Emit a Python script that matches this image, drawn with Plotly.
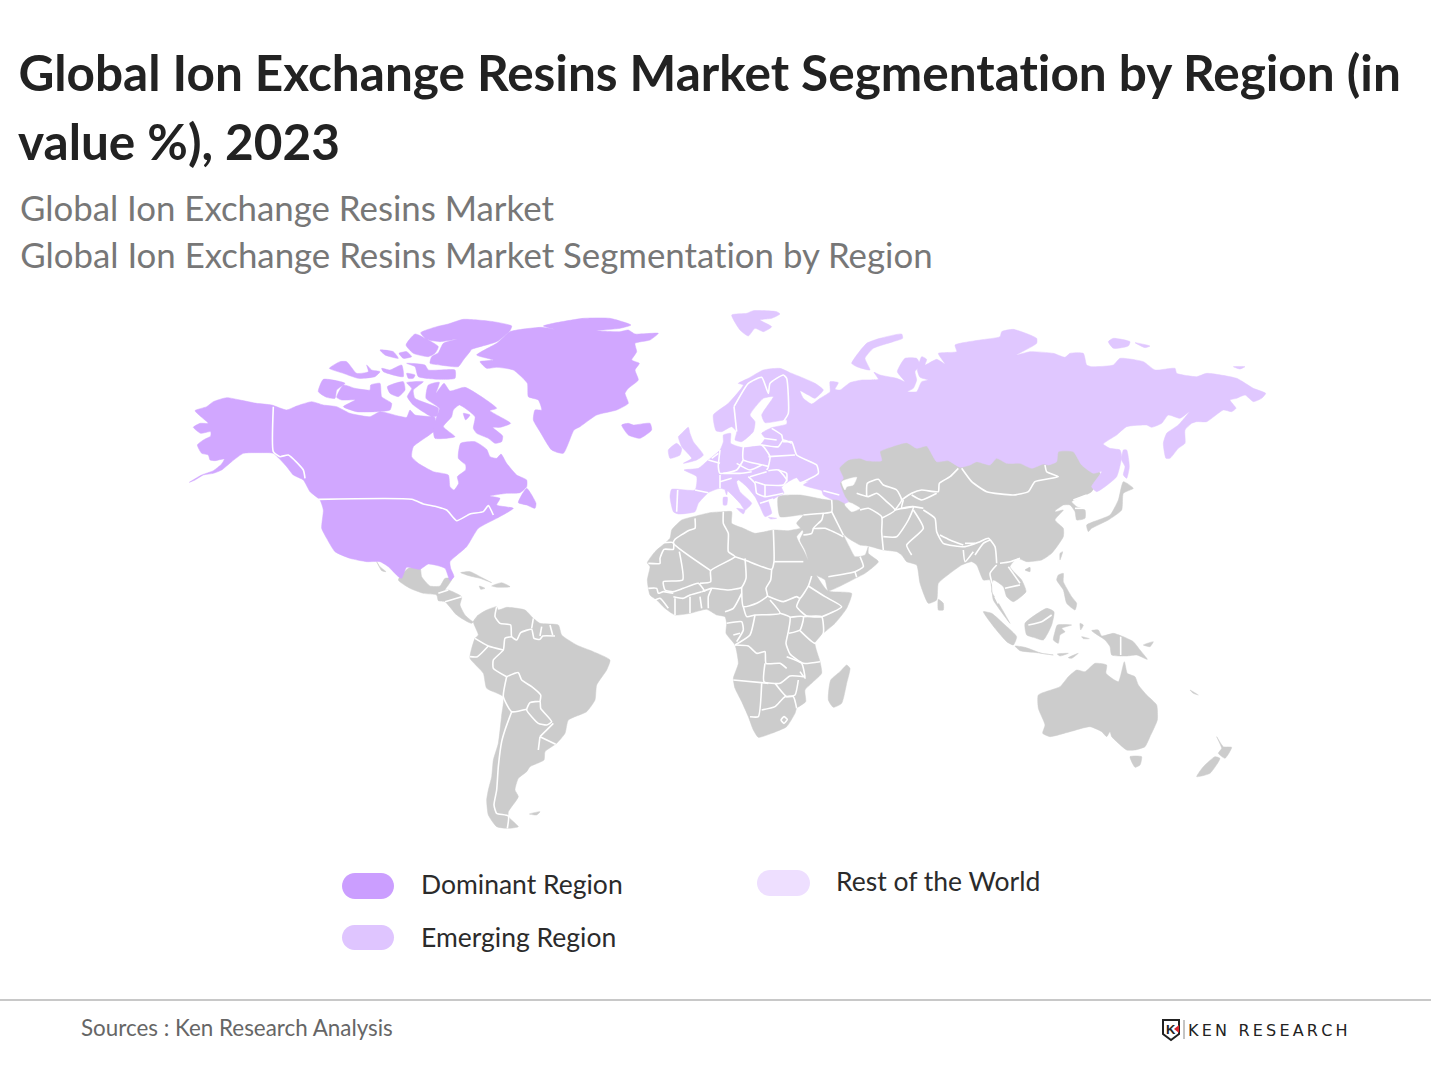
import plotly.graph_objects as go

C_NA = (180, 310)
C_ARC = (300, 310)
C_SA = (390, 560)
C_AF = (640, 500)
C_EU = (640, 300)
C_RU = (780, 320)
C_AS = (780, 440)
C_OC = (970, 560)

# North America
north_america = [(28,517),(65,495),(100,482),(125,462),(133,447),(105,452),(90,450),(85,435),(65,430),(52,405),(70,390),(92,378),(92,365),(62,370),(40,352),(60,340),(85,340),(65,322),(45,302),(80,290),(100,275),(140,263),(180,270),(230,280),(275,285),(320,300),(350,288),(395,275),(430,285),(470,290),(510,310),(570,320),(600,305),(655,318),(680,322),(690,300),(705,315),(755,320),(765,322),(763,362),(700,410),(695,440),(715,460),(760,485),(805,495),(810,530),(822,540),(836,520),(832,500),(857,480),(857,465),(835,445),(842,400),(885,395),(920,418),(930,440),(950,445),(963,432),(980,460),(1010,495),(1040,510),(1040,530),(1020,548),(980,550),(930,558),(960,565),(950,585),(1000,595),(950,625),(895,655),(860,710),(810,755),(812,775),(822,800),(810,812),(795,775),(745,762),(720,778),(680,772),(665,805),(655,800),(625,770),(600,755),(560,755),(510,745),(465,725),(440,685),(425,655),(430,600),(420,570),(390,545),(370,510),(340,495),(320,470),(280,430),(240,428),(190,430),(155,455),(125,480),(100,490),(70,495),(45,510)]
newfoundland = [(1040,535),(1068,580),(1065,595),(1040,585),(1015,578)]
ellesmere = [(722,68),(770,50),(805,42),(850,28),(940,35),(995,48),(990,62),(950,95),(875,118),(870,125),(850,150),(835,170),(780,165),(750,160),(755,140),(775,128),(790,100),(830,88),(780,95),(740,88)]
devon = [(678,105),(705,72),(745,90),(775,110),(765,130),(745,140),(700,130)]
arctic_a = [(600,120),(640,125),(655,145),(615,135)]
arctic_b = [(657,130),(680,125),(695,140),(670,145)]
melville = [(448,175),(480,155),(500,155),(530,190),(565,185),(560,165),(575,180),(600,185),(585,200),(535,205),(490,190)]
bathurst = [(605,175),(630,180),(665,165),(670,200),(610,185)]
cornwallis = [(680,190),(705,195),(700,205),(685,205)]
bylot_row = [(680,160),(735,165),(745,180),(825,180),(825,205),(780,208),(715,200),(705,170)]
banks = [(415,245),(430,208),(495,220),(470,240),(465,265),(440,262)]
victoria = [(490,225),(525,235),(570,240),(572,225),(600,220),(605,260),(635,280),(630,300),(590,305),(530,305),(490,290),(525,270),(485,270),(470,262)]
prince_wales = [(622,230),(670,215),(675,240),(655,260),(630,250)]
somerset = [(680,218),(730,215),(700,240),(705,265),(775,295),(770,318),(755,320),(700,285),(682,260),(695,235)]
baffin = [(738,265),(745,225),(778,217),(768,250),(792,220),(810,243),(855,232),(950,295),(930,302),(992,340),(960,352),(938,352),(968,378),(965,395),(945,400),(925,385),(890,370),(880,355),(885,320),(838,285),(820,300),(815,320),(790,350),(825,380),(765,385),(760,360),(770,320),(778,295)]
foxe_islet = [(850,310),(870,315),(857,330)]
greenland = [(760,40),(850,25),(930,25),(993,45),(960,55),(890,62),(960,65),(985,60),(1005,72),(1075,70),(1050,90),(1005,100),(1010,125),(995,150),(1018,160),(1005,180),(1015,210),(985,235),(975,250),(985,280),(950,300),(890,315),(840,350),(822,360),(790,430),(755,420),(720,365),(700,330),(705,300),(725,300),(715,270),(685,260),(682,220),(640,180),(590,172),(560,175),(540,155),(580,150),(530,135),(590,100),(630,65),(725,52),(770,60),(730,48)]
iceland = [(965,345),(985,340),(1000,345),(1050,340),(1055,360),(1020,385),(985,375)]

# Central and South America
baja = [(590,755),(600,770),(618,785),(605,782)]
mexico_central = [(25,60),(55,25),(90,22),(95,50),(120,78),(150,78),(165,55),(187,55),(175,75),(165,90),(175,90),(215,110),(210,135),(225,165),(250,185),(265,165),(245,190),(200,165),(165,125),(145,122),(140,105),(100,100),(60,85)]
cuba = [(212,38),(240,35),(280,55),(305,68),(270,55),(240,48)]
hispaniola = [(305,78),(335,68),(360,80),(325,82)]
jamaica = [(268,78),(285,85),(272,88)]
south_america = [(265,165),(290,150),(320,140),(325,150),(350,142),(405,150),(430,175),(450,190),(505,195),(515,225),(560,255),(610,275),(660,300),(650,330),(620,375),(615,420),(590,455),(535,480),(525,520),(500,550),(465,575),(462,600),(420,620),(410,635),(385,655),(375,690),(385,710),(355,755),(355,770),(385,800),(355,805),(320,800),(295,765),(290,720),(295,690),(305,650),(310,600),(325,550),(335,465),(340,410),(290,385),(280,340),(240,295),(245,265),(255,235),(265,225),(250,185)]
falkland = [(418,762),(450,755),(440,765)]

# Africa
africa = [(22,188),(45,155),(90,115),(95,90),(125,60),(160,50),(210,38),(250,35),(275,35),(275,70),(310,85),(345,100),(400,90),(445,92),(490,85),(470,110),(490,150),(525,220),(560,270),(575,275),(635,280),(620,325),(585,370),(550,400),(525,430),(540,485),(545,520),(495,570),(497,605),(470,625),(465,640),(440,680),(395,700),(355,712),(340,690),(325,650),(305,605),(285,565),(280,535),(295,490),(285,435),(258,400),(260,370),(255,350),(230,345),(200,328),(150,340),(105,345),(75,325),(50,300),(30,285),(22,240),(30,200)]
madagascar = [(620,495),(630,505),(620,550),(605,610),(580,622),(565,600),(572,540),(600,515)]

# Asia below Russia (its top edge sits under the Russia polygon)
asia = [(-5,170),(60,165),(130,178),(155,180),(175,150),(170,80),(300,20),(400,0),(900,30),(960,100),(935,155),(905,170),(875,185),(890,200),(915,210),(915,235),(890,240),(885,215),(870,195),(850,195),(825,210),(812,195),(845,178),(825,215),(850,210),(825,240),(850,265),(850,290),(815,340),(785,360),(740,365),(712,355),(690,380),(725,420),(738,455),(700,485),(680,470),(670,440),(640,420),(635,455),(650,480),(690,550),(660,510),(640,480),(630,420),(610,420),(590,375),(575,365),(545,375),(510,400),(475,430),(470,480),(445,490),(420,430),(410,375),(380,365),(365,345),(350,335),(310,330),(265,318),(240,315),(205,295),(190,283),(208,320),(225,350),(255,345),(265,320),(265,340),(295,365),(255,400),(232,412),(145,452),(135,420),(100,400),(75,330),(60,300),(70,275),(50,250),(70,225),(0,230)]
caspian_n = [(185,125),(230,112),(220,135),(200,140),(195,150)]
caspian_s = [(198,185),(215,190),(240,205),(215,215),(195,195)]
sri_lanka = [(475,478),(490,490),(490,510),(475,510)]
hainan = [(735,390),(750,382),(750,395)]
taiwan = [(840,340),(848,335),(840,360)]
japan = [(925,275),(920,255),(990,225),(1015,180),(1030,125),(1060,145),(1030,160),(1025,210),(985,240),(935,265)]
philippines = [(835,405),(850,400),(850,425),(875,470),(890,490),(885,510),(860,490),(850,450),(830,420)]

# Indonesia and Oceania
sumatra = [(40,155),(65,160),(105,195),(140,230),(130,255),(110,245),(75,205)]
java = [(135,258),(165,262),(215,280),(250,285),(200,278),(150,272)]
lesser_sunda = [(262,282),(295,280),(270,288)]
timor = [(295,293),(325,280),(305,295)]
borneo = [(165,190),(230,145),(252,155),(245,195),(220,240),(190,232),(170,225)]
sulawesi = [(262,195),(305,195),(275,205),(285,215),(270,225),(265,250),(250,240),(255,215)]
halmahera = [(330,190),(340,195),(332,210)]
seram = [(335,230),(358,236),(340,236)]
new_guinea = [(365,212),(385,210),(395,228),(430,220),(455,228),(490,245),(510,270),(532,298),(500,285),(470,288),(425,285),(420,260),(405,240)]
new_britain = [(520,255),(550,245),(540,260)]
australia = [(205,405),(270,380),(295,350),(320,330),(345,335),(375,310),(410,315),(408,340),(445,365),(463,305),(472,340),(495,350),(505,375),(530,405),(560,435),(562,480),(540,530),(525,560),(495,570),(470,570),(440,545),(425,530),(420,515),(410,530),(395,515),(360,500),(300,515),(240,530),(218,520),(225,495),(205,445)]
tasmania = [(480,590),(515,590),(510,615),(495,622)]
nz_south = [(680,650),(700,620),(735,590),(750,595),(720,640)]
nz_north = [(740,530),(760,560),(785,562),(765,595),(745,580),(755,565)]
new_caledonia = [(660,390),(685,405),(670,400)]

# Russia and Europe, one outline in three runs
russia_north = [(30,158),(60,170),(105,190),(130,210),(105,235),(85,225),(60,212),(70,235),(95,252),(120,235),(150,215),(150,185),(175,188),(165,208),(180,210),(210,188),(245,180),(295,178),(282,157),(300,165),(350,175),(375,185),(352,155),(375,115),(410,115),(420,135),(405,155),(410,180),(400,205),(383,215),(410,215),(425,185),(445,180),(420,172),(412,150),(425,110),(440,118),(435,135),(470,118),(495,132),(475,100),(530,95),(525,75),(600,60),(660,50),(665,35),(700,28),(770,55),(770,70),(710,105),(750,95),(820,100),(855,112),(870,100),(910,100),(920,135),(935,140),(1000,135),(1020,115),(1090,125),(1125,150),(1185,145),(1190,160),(1250,170),(1280,160),(1370,175),(1420,205),(1457,220),(1445,235),(1420,245),(1395,225),(1370,235),(1350,240),(1368,265),(1355,275),(1330,270),(1280,305),(1250,305),(1235,310),(1215,330),(1215,370),(1195,385),(1170,415),(1158,415),(1150,370),(1160,340),(1195,315),(1228,275),(1200,295),(1165,285),(1145,310),(1115,322),(1100,315),(1040,320),(1010,345),(970,372),(990,385),(1020,390),(1025,410),(1010,470),(975,500),(950,515),(935,500)]
russia_south = [(965,455),(940,460),(905,435),(880,395),(835,395),(830,425),(805,435),(790,432),(755,445),(720,430),(680,430),(650,415),(630,435),(590,425),(570,435),(540,442),(505,422),(470,425),(440,378),(410,385),(380,368),(330,382),(300,395),(305,422),(260,422),(240,415),(205,420),(178,445),(190,475),(180,490),(195,530),(205,545),(195,550),(175,540),(155,538),(130,525),(125,512)]
europe_coast = [(520,565),(490,555),(505,545),(480,545),(470,533),(445,545),(425,562),(432,580),(412,590),(400,597),(385,600),(395,640),(375,650),(360,620),(345,590),(320,560),(295,540),(290,545),(300,575),(335,610),(315,630),(300,610),(262,572),(240,565),(205,578),(175,610),(165,635),(115,642),(100,635),(90,590),(95,568),(165,570),(170,530),(132,510),(175,505),(205,480),(240,450),(250,425),(250,405),(272,400),(272,430),(305,442),(360,435),(375,415),(365,400),(395,383),(440,372),(440,360),(375,368),(365,345),(400,290),(370,295),(330,345),(345,365),(340,395),(305,425),(285,420),(290,395),(275,380),(245,395),(228,392),(220,345),(265,310),(310,255),(295,250),(325,235),(370,210),(420,205),(450,218)]
svalbard = [(275,45),(320,40),(340,32),(410,35),(420,42),(395,55),(360,60),(395,80),(370,95),(345,85),(325,108),(300,90)]
novaya_zemlya = [(635,190),(680,130),(720,115),(785,102),(788,115),(760,125),(700,145),(675,175),(690,210),(650,200)]
britain = [(120,405),(145,382),(150,400),(160,425),(190,465),(170,480),(130,490),(155,475),(125,440),(115,410)]
ireland = [(85,450),(110,430),(125,445),(120,465),(90,475)]
sardinia = [(250,592),(262,592),(260,615),(250,615)]
corsica = [(255,570),(262,570),(260,585)]
sicily = [(290,625),(315,630),(310,642)]
crete = [(385,652),(410,655),(392,657)]
sakhalin = [(1030,390),(1040,390),(1048,440),(1040,475),(1030,465),(1035,440),(1025,420)]
siberian_a = [(985,65),(1000,55),(1050,65),(1045,78),(1000,85)]
siberian_b = [(1065,68),(1110,78),(1095,83)]
wrangel = [(1360,140),(1395,140),(1380,147)]

# Country borders, drawn white over the land
borders_na = [
    [(280,290),(280,425),(300,440),(325,435),(370,480),(375,505)],
    [(415,568),(695,568),(730,582),(770,590),(800,600),(830,632),(870,612),(910,605),(925,587),(940,615)],
]
borders_sa = [
    [(320,140),(315,170),(330,190),(362,195),(365,230),(380,240),(392,218),(425,208),(432,235),(450,238),(458,228),(495,228)],
    [(430,175),(425,205)], [(455,200),(450,228)], [(480,195),(488,225)],
    [(365,230),(345,235),(340,270),(310,300),(310,325),(350,350)],
    [(255,235),(295,258),(340,270)], [(295,258),(262,290),(240,290)],
    [(350,350),(385,338),(395,360),(425,380),(452,405),(450,425)],
    [(410,450),(420,428),(450,425),(452,445),(485,485),(470,495),(445,490),(410,450)],
    [(350,350),(340,410),(365,455),(410,448)],
    [(365,455),(345,510),(335,545),(325,620),(320,690),(312,735),(320,760),(355,768),(352,805)],
    [(450,530),(497,553)], [(450,530),(445,570)], [(450,530),(490,490)],
    [(145,100),(175,90)], [(165,125),(215,110)],
]
borders_af = [
    [(25,190),(60,190),(60,175),(72,148),(100,148),(100,128),(60,130)],
    [(165,55),(165,85),(145,92),(105,118),(100,130),(212,212)],
    [(118,155),(128,240),(70,245),(75,270),(100,275),(130,265),(175,250),(195,275)],
    [(250,35),(250,70),(265,100),(265,155),(285,170),(212,212),(212,245),(180,250)],
    [(285,170),(315,180),(395,208),(402,185),(400,90)], [(402,185),(490,185)],
    [(315,175),(318,235),(305,262),(265,270),(215,265),(185,275)],
    [(395,208),(392,240),(378,265),(382,288),(350,310),(310,320),(305,262)],
    [(305,280),(280,325),(255,335)], [(205,325),(205,290),(215,265)],
    [(100,290),(130,295),(150,285),(185,275)], [(150,290),(150,340)], [(180,290),(185,325)], [(105,295),(105,345)],
    [(25,265),(50,265),(55,280),(70,275),(100,280)], [(45,300),(60,295),(85,325)],
    [(382,288),(430,305),(470,290),(480,295),(505,258),(515,228)], [(505,258),(555,290),(605,320),(545,350),(500,348),(470,320),(480,295)],
    [(310,320),(320,350),(345,345),(420,340),(390,300)], [(345,345),(330,405),(285,435)],
    [(420,340),(450,352),(445,395),(438,430),(450,462),(490,490),(540,485)], [(450,352),(490,350),(480,390),(447,400)],
    [(490,350),(545,350),(550,400),(525,430),(480,392)],
    [(285,435),(325,438),(350,460),(375,455),(378,490),(420,490),(440,505)],
    [(375,490),(372,545),(420,550),(450,528),(490,530)], [(440,470),(485,490),(495,535),(480,515)],
    [(280,540),(385,550)], [(365,550),(355,650),(330,650)], [(365,630),(405,620),(435,590),(460,590),(470,625)],
    [(405,550),(440,590),(465,585),(475,540)], [(260,370),(305,365),(310,390),(290,425)], [(280,405),(300,400)],
    [(423,660),(432,650),(442,658),(432,670),(423,660)],
]
borders_as = [
    [(70,225),(130,220),(155,215),(155,180)], [(155,215),(190,285)], [(130,220),(125,240),(100,265),(135,265),(190,290)],
    [(70,285),(95,280),(100,265)], [(145,410),(225,395),(250,380),(240,350)], [(230,412),(225,395)],
    [(240,210),(265,205),(305,230),(305,275),(310,330)],
    [(230,160),(265,170),(290,160),(320,185),(345,210),(305,235)],
    [(260,168),(262,130),(295,118),(310,135),(350,150),(365,180),(345,210)],
    [(365,180),(395,160),(425,150),(475,155),(478,130),(510,110),(535,85)],
    [(395,165),(425,180),(470,160)], [(370,180),(365,205),(400,200),(430,205)],
    [(345,210),(400,200),(385,240),(350,290),(310,290)],
    [(400,210),(430,265),(380,315),(395,345)],
    [(430,210),(465,235),(470,275),(490,310),(555,320),(600,305),(625,295),(645,320),(650,370)],
    [(480,285),(510,300),(550,315)], [(555,310),(585,310)], [(550,330),(555,365),(580,335)],
    [(585,345),(610,310),(630,300)], [(650,375),(630,400),(640,440)], [(660,370),(690,365),(720,355)],
    [(685,380),(720,430)], [(675,445),(720,435)], [(645,470),(655,490)],
    [(545,85),(575,125),(620,155),(700,165),(745,155),(765,125),(835,110),(800,95),(795,75)],
    [(880,180),(920,165)], [(885,205),(915,205)],
]
borders_oc = [[(452,230),(452,285)], [(175,195),(215,185),(245,165)]]
borders_eu = [
    [(282,320),(325,250),(365,232),(385,280),(390,250),(430,225),(440,235),(445,340),(430,365)],
    [(282,320),(290,395)],
    [(370,415),(410,420)], [(365,435),(415,440),(430,420),(455,430)],
    [(395,385),(425,405),(430,425),(455,425),(470,465),(530,495),(535,520),(480,550)], [(385,470),(465,465)],
    [(310,440),(365,435),(390,470),(385,500)], [(310,440),(310,480),(385,500),(380,510)],
    [(240,450),(235,500),(240,520),(290,510),(310,480)], [(290,490),(330,510),(365,495)], [(250,520),(300,520),(335,515)],
    [(330,530),(380,515)], [(385,512),(415,510),(440,540),(430,555),(375,555)],
    [(240,525),(240,565)], [(240,545),(275,535)], [(113,570),(110,635)], [(165,570),(205,578)],
    [(325,530),(345,550),(350,580),(375,590),(430,580)], [(375,555),(375,590)], [(345,545),(375,555)], [(360,610),(400,597)],
    [(205,480),(240,490)], [(235,460),(215,475)], [(415,510),(440,520),(440,545)],
    [(550,572),(598,585)],
]

legend_labels = ["Dominant Region", "Emerging Region", "Rest of the World"]
legend_colors = ["#cb9eff", "#dfc5ff", "#eedfff"]
COL_DOM = "#d1a7ff"
COL_EME = "#e0c7ff"
COL_GREY = "#cccccc"


def place(crop, pts):
    return [(crop[0] + x / 3, crop[1] + y / 3) for x, y in pts]


def flat(shapes):
    xs, ys = [], []
    for s in shapes:
        xs += [p[0] for p in s] + [s[0][0], None]
        ys += [p[1] for p in s] + [s[0][1], None]
    return xs, ys


def land(shapes, color):
    xs, ys = flat(shapes)
    return go.Scatter(x=xs, y=ys, mode="lines", fill="toself", fillcolor=color,
                      line=dict(color=color, width=0.5, shape="spline", smoothing=0.5),
                      hoverinfo="skip", showlegend=False)


grey = [place(C_AS, s) for s in [asia, sri_lanka, hainan, taiwan, japan, philippines]]
grey += [place(C_NA, baja)]
grey += [place(C_SA, s) for s in [mexico_central, cuba, hispaniola, jamaica, south_america, falkland]]
grey += [place(C_AF, s) for s in [africa, madagascar]]
grey += [place(C_OC, s) for s in [sumatra, java, lesser_sunda, timor, borneo, sulawesi, halmahera, seram,
                                  new_guinea, new_britain, australia, tasmania, nz_south, nz_north, new_caledonia]]

dominant = [place(C_NA, s) for s in [north_america, newfoundland, ellesmere, devon, arctic_a, arctic_b, melville, bathurst,
                                     cornwallis, bylot_row, banks, victoria, prince_wales, somerset, baffin, foxe_islet]]
dominant += [place(C_ARC, s) for s in [greenland, iceland]]

emerging = [place(C_RU, russia_north) + place(C_RU, russia_south) + place(C_EU, europe_coast)]
emerging += [place(C_EU, s) for s in [svalbard, novaya_zemlya, britain, ireland, sardinia, corsica, sicily, crete]]
emerging += [place(C_RU, s) for s in [sakhalin, siberian_a, siberian_b, wrangel]]

fig = go.Figure()
fig.add_trace(land(grey, COL_GREY))
fig.add_trace(land([place(C_AS, caspian_n), place(C_AS, caspian_s)], "white"))
fig.add_trace(land(dominant, COL_DOM))
fig.add_trace(land(emerging, COL_EME))

border_lines = [place(C_NA, b) for b in borders_na] + [place(C_SA, b) for b in borders_sa]
border_lines += [place(C_AF, b) for b in borders_af] + [place(C_AS, b) for b in borders_as]
border_lines += [place(C_OC, b) for b in borders_oc] + [place(C_EU, b) for b in borders_eu]
bx, by = [], []
for b in border_lines:
    bx += [p[0] for p in b] + [None]
    by += [p[1] for p in b] + [None]
fig.add_trace(go.Scatter(x=bx, y=by, mode="lines", line=dict(color="white", width=1.6, shape="spline", smoothing=0.5),
                         hoverinfo="skip", showlegend=False))


def note(x, y, text, size, color, bold=False, anchor="left", font="Lato"):
    fig.add_annotation(x=x, y=y, xref="x", yref="y", text=f"<b>{text}</b>" if bold else text, showarrow=False,
                       xanchor=anchor, yanchor="middle", font=dict(family=font, size=size, color=color))


def pill(x0, y0, x1, y1, color):
    r = (y1 - y0) / 2
    k = r * 0.55
    path = (f"M{x0+r},{y0} L{x1-r},{y0} C{x1-r+k},{y0} {x1},{y0+r-k} {x1},{y0+r} C{x1},{y0+r+k} {x1-r+k},{y1} {x1-r},{y1} "
            f"L{x0+r},{y1} C{x0+r-k},{y1} {x0},{y0+r+k} {x0},{y0+r} C{x0},{y0+r-k} {x0+r-k},{y0} {x0+r},{y0} Z")
    fig.add_shape(type="path", path=path, xref="x", yref="y", fillcolor=color, line_width=0)


note(16, 72, "Global Ion Exchange Resins Market Segmentation by Region (in", 49.5, "#222222", bold=True)
note(16, 141, "value %), 2023", 49.5, "#222222", bold=True)
note(18, 207, "Global Ion Exchange Resins Market", 34.8, "#777777")
note(18, 254, "Global Ion Exchange Resins Market Segmentation by Region", 34.8, "#777777")

pill(342, 873, 394, 899, legend_colors[0])
pill(342, 925, 394, 950, legend_colors[1])
pill(757, 870, 810, 896, legend_colors[2])
note(419, 884, legend_labels[0], 26.5, "#2b2b2b")
note(419, 937, legend_labels[1], 26.5, "#2b2b2b")
note(834, 881, legend_labels[2], 26.5, "#2b2b2b")

fig.add_shape(type="line", x0=0, x1=1431, y0=1000, y1=1000, xref="x", yref="y", line=dict(color="#c8c8c8", width=2))
note(79, 1027, "Sources : Ken Research Analysis", 22.4, "#666666")

# logo
fig.add_shape(type="path", xref="x", yref="y", line=dict(color="#222222", width=2), fillcolor="white",
              path="M1163,1020 L1179,1020 L1179,1034 L1171,1040 L1163,1034 Z")
note(1171, 1029, "K", 13, "#222222", bold=True, anchor="center", font="Liberation Sans")
fig.add_shape(type="path", xref="x", yref="y", fillcolor="#d9262e", line_width=0,
              path="M1179,1025 L1174,1029 L1179,1033 Z")
fig.add_shape(type="line", x0=1184, x1=1184, y0=1020, y1=1039, xref="x", yref="y", line=dict(color="#888888", width=1))
note(1186, 1030, "\u2009".join("KEN RESEARCH"), 16, "#222222", font="DejaVu Sans")

fig.update_xaxes(range=[0, 1431], visible=False, fixedrange=True)
fig.update_yaxes(range=[1073, 0], visible=False, fixedrange=True)
fig.update_layout(width=1431, height=1073, margin=dict(l=0, r=0, t=0, b=0),
                  plot_bgcolor="white", paper_bgcolor="white", showlegend=False)
page_css = ("var s=document.createElement('style');"
            "s.textContent='body{margin:0} text,tspan{font-variant-ligatures:none !important}';"
            "document.head.appendChild(s);")
fig.write_html("out.html", post_script=page_css, config=dict(displayModeBar=False))
